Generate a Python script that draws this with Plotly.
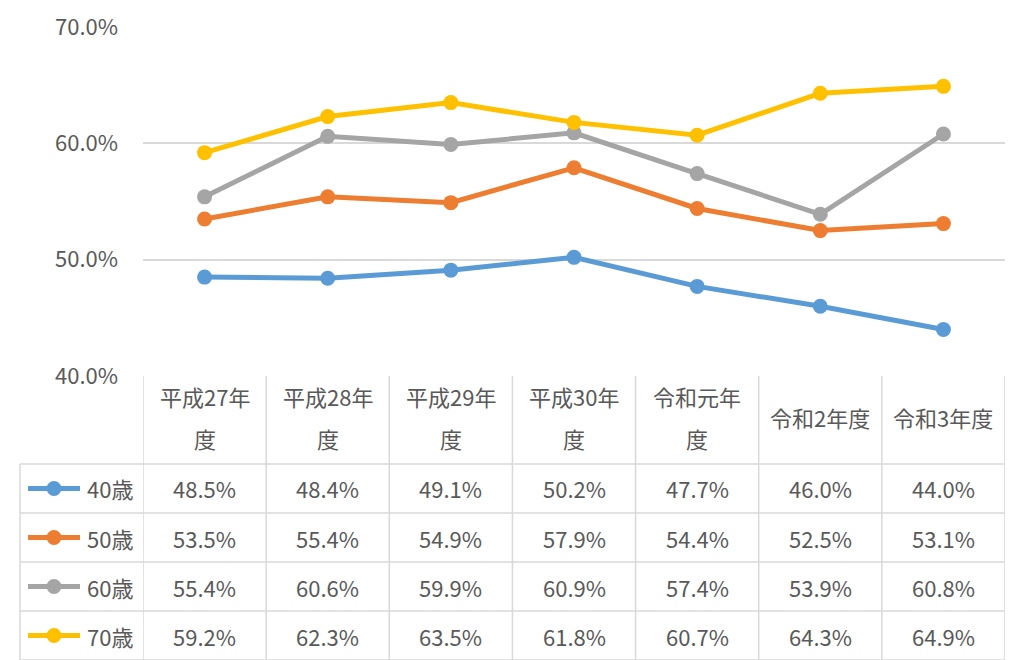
import plotly.graph_objects as go

categories = ["平成27年度", "平成28年度", "平成29年度", "平成30年度", "令和元年度", "令和2年度", "令和3年度"]
series_names = ["40歳", "50歳", "60歳", "70歳"]
v40 = [48.5, 48.4, 49.1, 50.2, 47.7, 46.0, 44.0]
v50 = [53.5, 55.4, 54.9, 57.9, 54.4, 52.5, 53.1]
v60 = [55.4, 60.6, 59.9, 60.9, 57.4, 53.9, 60.8]
v70 = [59.2, 62.3, 63.5, 61.8, 60.7, 64.3, 64.9]
series_values = [v40, v50, v60, v70]
colors = ["#5B9BD5", "#ED7D31", "#A5A5A5", "#FFC000"]

FONT = "Noto Sans CJK JP, Noto Sans, sans-serif"
TXT = "#595959"
GRID = "#D9D9D9"
FS = 22

W, H = 1013, 660
L, R, T, B = 143, 1005, 27, 376


def px(x):
    return (x - L) / (R - L)


def py(y):
    return (B - y) / (B - T)


fig = go.Figure()
n = len(categories)
for name, vals, col in zip(series_names, series_values, colors):
    fig.add_trace(go.Scatter(
        x=list(range(n)), y=[v / 100 for v in vals], name=name, mode="lines+markers",
        line=dict(color=col, width=5), marker=dict(color=col, size=15),
        showlegend=False, hoverinfo="skip"))

shapes = []
ann = []
line_style = dict(color=GRID, width=1.5)
header_bottom = 464
row_h = 49
rows_y = [header_bottom + i * row_h for i in range(len(series_names) + 1)]

for yy in rows_y:
    shapes.append(dict(type="line", xref="paper", yref="paper", x0=px(20), x1=px(1005),
                       y0=py(yy), y1=py(yy), line=line_style))
shapes.append(dict(type="line", xref="paper", yref="paper", x0=px(20), x1=px(20),
                   y0=py(header_bottom), y1=py(670), line=line_style))
for i in range(n + 1):
    shapes.append(dict(type="line", xref="x", yref="paper", x0=i - 0.5, x1=i - 0.5,
                       y0=py(376), y1=py(670), line=line_style))


def wrap(label):
    w = sum(1 if ord(c) < 128 else 2 for c in label)
    if w > 9:
        return [label[:-1], label[-1]]
    return [label]


for i, cat in enumerate(categories):
    parts = wrap(cat)
    if len(parts) == 1:
        ann.append(dict(x=i, y=py(417), xref="x", yref="paper", text=parts[0],
                        showarrow=False, xanchor="center", yanchor="middle"))
    else:
        ann.append(dict(x=i, y=py(396), xref="x", yref="paper", text=parts[0],
                        showarrow=False, xanchor="center", yanchor="middle"))
        ann.append(dict(x=i, y=py(438), xref="x", yref="paper", text=parts[1],
                        showarrow=False, xanchor="center", yanchor="middle"))

for r, (name, vals, col) in enumerate(zip(series_names, series_values, colors)):
    yc = header_bottom + r * row_h + row_h / 2
    shapes.append(dict(type="line", xref="paper", yref="paper", x0=px(28), x1=px(80),
                       y0=py(yc), y1=py(yc), line=dict(color=col, width=5)))
    shapes.append(dict(type="circle", xref="paper", yref="paper", xsizemode="pixel",
                       ysizemode="pixel", xanchor=px(54), yanchor=py(yc),
                       x0=-7.5, x1=7.5, y0=-7.5, y1=7.5, fillcolor=col, line=dict(width=0)))
    ann.append(dict(x=px(135), y=py(yc), xref="paper", yref="paper", text=name,
                    showarrow=False, xanchor="right", yanchor="middle"))
    for i, v in enumerate(vals):
        ann.append(dict(x=i, y=py(yc), xref="x", yref="paper", text=f"{v:.1f}%",
                        showarrow=False, xanchor="center", yanchor="middle"))

fig.update_layout(
    width=W, height=H, autosize=False,
    margin=dict(l=L, r=W - R, t=T, b=H - B, pad=0, autoexpand=False),
    paper_bgcolor="white", plot_bgcolor="white",
    font=dict(family=FONT, size=FS, color=TXT),
    xaxis=dict(range=[-0.5, n - 0.5], showticklabels=False, showgrid=False,
               zeroline=False, showline=False, fixedrange=True, automargin=False),
    yaxis=dict(range=[0.40, 0.70], dtick=0.1, tick0=0.4, tickformat=".1%",
               showgrid=True, gridcolor=GRID, gridwidth=1.5, zeroline=False,
               showline=False, ticks="", ticklabelstandoff=24, automargin=False,
               tickfont=dict(family=FONT, size=FS, color=TXT), fixedrange=True),
    shapes=shapes, annotations=ann, showlegend=False,
)

fig.write_html("out.html", config={"displayModeBar": False},
               post_script="document.body.style.margin='0';document.body.style.overflow='hidden';")
